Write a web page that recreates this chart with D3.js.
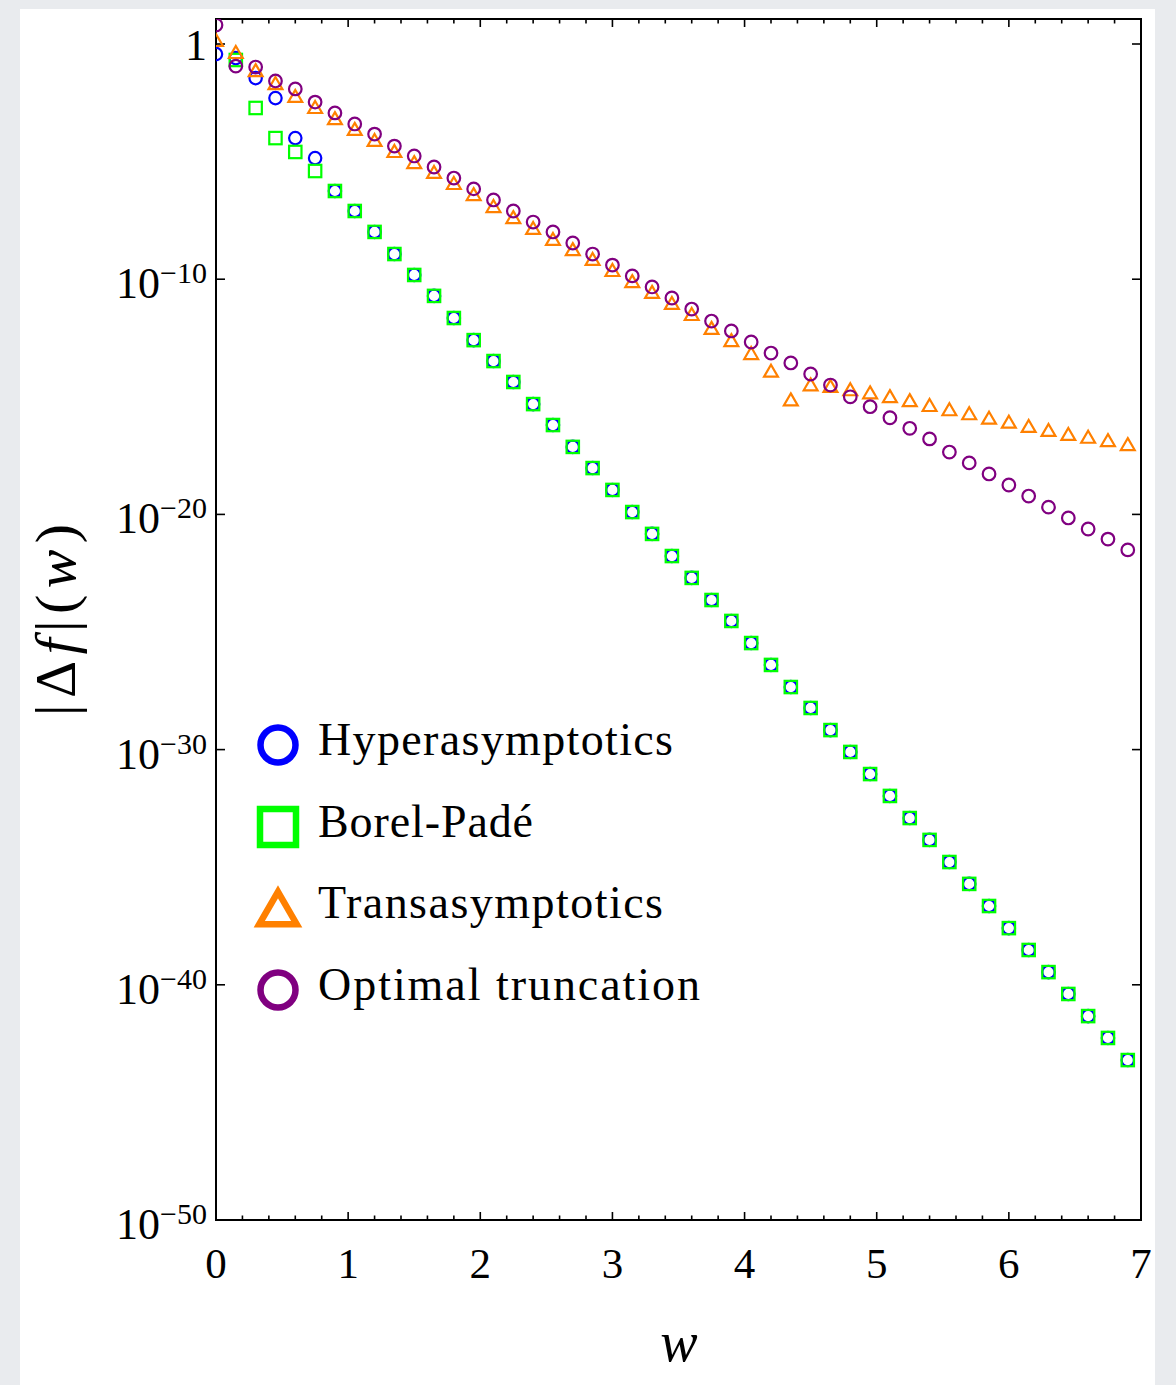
<!DOCTYPE html>
<html>
<head>
<meta charset="utf-8">
<script src="https://cdn.jsdelivr.net/npm/d3@7"></script>
<style>
  html, body { margin: 0; padding: 0; background: #e9ebee; }
  svg { display: block; }
</style>
</head>
<body>
<svg id="chart" width="1176" height="1385"></svg>
<script>
// Sample points in w
const wGrid = [0, 0.15, 0.3, 0.45, 0.6, 0.75, 0.9, 1.05, 1.2, 1.35, 1.5, 1.65, 1.8, 1.95,
  2.1, 2.25, 2.4, 2.55, 2.7, 2.85, 3.0, 3.15, 3.3, 3.45, 3.6, 3.75, 3.9, 4.05, 4.2, 4.35,
  4.5, 4.65, 4.8, 4.95, 5.1, 5.25, 5.4, 5.55, 5.7, 5.85, 6.0, 6.15, 6.3, 6.45, 6.6, 6.75, 6.9];

// log10 |Δf|(w) for each method (null where no point is plotted)
const hyperLog10 = [-0.43, -0.60, -1.45, -2.30, -4.00, -4.85, -6.25, -7.10, -7.99, -8.93,
  -9.82, -10.71, -11.65, -12.59, -13.48, -14.37, -15.31, -16.20, -17.13, -18.03,
  -18.96, -19.90, -20.83, -21.77, -22.70, -23.64, -24.53, -25.47, -26.40, -27.34,
  -28.23, -29.17, -30.10, -31.04, -31.97, -32.91, -33.84, -34.78, -35.71, -36.65,
  -37.59, -38.52, -39.46, -40.39, -41.33, -42.26, -43.20];

const borelPadeLog10 = [null, -0.68, -2.72, -4.00, -4.59, -5.40, -6.25, -7.10, -7.99, -8.93,
  -9.82, -10.71, -11.65, -12.59, -13.48, -14.37, -15.31, -16.20, -17.13, -18.03,
  -18.96, -19.90, -20.83, -21.77, -22.70, -23.64, -24.53, -25.47, -26.40, -27.34,
  -28.23, -29.17, -30.10, -31.04, -31.97, -32.91, -33.84, -34.78, -35.71, -36.65,
  -37.59, -38.52, -39.46, -40.39, -41.33, -42.26, -43.20];

const transLog10 = [0.17, -0.34, -1.11, -1.66, -2.21, -2.68, -3.15, -3.61, -4.08, -4.55,
  -5.02, -5.44, -5.91, -6.38, -6.89, -7.36, -7.82, -8.29, -8.72, -9.14,
  -9.61, -10.08, -10.54, -11.01, -11.48, -12.07, -12.59, -13.14, -13.89, -15.11,
  -14.47, -14.54, -14.68, -14.81, -14.97, -15.14, -15.35, -15.53, -15.70, -15.89,
  -16.06, -16.24, -16.41, -16.58, -16.70, -16.84, -17.01];

const optimalLog10 = [0.81, -0.94, -0.98, -1.57, -1.91, -2.47, -2.93, -3.40, -3.83, -4.34,
  -4.76, -5.23, -5.70, -6.16, -6.63, -7.10, -7.57, -7.99, -8.46, -8.93,
  -9.40, -9.86, -10.33, -10.80, -11.27, -11.78, -12.20, -12.67, -13.14, -13.56,
  -14.03, -14.50, -15.00, -15.42, -15.89, -16.34, -16.79, -17.35, -17.81, -18.28,
  -18.75, -19.22, -19.69, -20.15, -20.62, -21.05, -21.51];

// Axis ticks
const xTickLabels = ["0", "1", "2", "3", "4", "5", "6", "7"];
const yTickExponents = [0, -10, -20, -30, -40, -50];

// Legend entries
const seriesNames = ["Hyperasymptotics", "Borel-Padé", "Transasymptotics", "Optimal truncation"];
const seriesColors = ["#0000ff", "#00ff00", "#ff8000", "#800080"];
const seriesShapes = ["circle", "square", "triangle", "circle"];
const legendTextWidths = [355, 215, 345, 382];

(function draw() {
  const svg = d3.select("#chart");
  const serif = "'Liberation Serif', 'DejaVu Serif', serif";

  // white card
  svg.append("rect").attr("x", 20).attr("y", 9).attr("width", 1135).attr("height", 1385)
    .attr("fill", "#ffffff");

  const pL = 216, pR = 1141, pT = 19, pB = 1220;
  const x = d3.scaleLinear().domain([0, 7]).range([pL, pR]);
  const y = d3.scaleLog().domain([1e-50, Math.pow(10, 1.063)]).range([pB, pT]);

  svg.append("clipPath").attr("id", "plotclip")
    .append("rect").attr("x", pL).attr("y", pT).attr("width", pR - pL).attr("height", pB - pT);

  // frame
  svg.append("rect").attr("x", pL).attr("y", pT).attr("width", pR - pL).attr("height", pB - pT)
    .attr("fill", "none").attr("stroke", "#000").attr("stroke-width", 2);

  // x ticks (major + minor, inward, top and bottom)
  const xTickVals = d3.range(1, 35).map(i => i / 5);
  const ticksG = svg.append("g").attr("stroke", "#000").attr("stroke-width", 1.6);
  xTickVals.forEach(v => {
    const major = Math.abs(v - Math.round(v)) < 1e-9;
    const len = major ? 8 : 4.5;
    ticksG.append("line").attr("x1", x(v)).attr("x2", x(v)).attr("y1", pB).attr("y2", pB - len);
    ticksG.append("line").attr("x1", x(v)).attr("x2", x(v)).attr("y1", pT).attr("y2", pT + len);
  });
  // y ticks (left and right, inward)
  yTickExponents.forEach(e => {
    const yy = y(Math.pow(10, e));
    ticksG.append("line").attr("x1", pL).attr("x2", pL + 9).attr("y1", yy).attr("y2", yy);
    ticksG.append("line").attr("x1", pR).attr("x2", pR - 9).attr("y1", yy).attr("y2", yy);
  });

  // x tick labels
  svg.append("g").selectAll("text").data(xTickLabels).join("text")
    .attr("x", d => x(+d)).attr("y", 1278)
    .attr("text-anchor", "middle").attr("font-family", serif).attr("font-size", 43)
    .attr("fill", "#000").text(d => d);

  // y tick labels
  const yl = svg.append("g").attr("font-family", serif).attr("fill", "#000");
  yTickExponents.forEach(e => {
    const yy = y(Math.pow(10, e));
    if (e === 0) {
      yl.append("text").attr("x", 207).attr("y", yy + 16).attr("text-anchor", "end")
        .attr("font-size", 44).text("1");
    } else {
      const t = yl.append("text").attr("x", 207).attr("y", yy + 19).attr("text-anchor", "end")
        .attr("font-size", 44);
      t.append("tspan").text("10");
      t.append("tspan").attr("dy", -15).attr("font-size", 30).text("\u2212" + Math.abs(e));
    }
  });

  // axis titles
  svg.append("text").attr("x", 679).attr("y", 1361).attr("text-anchor", "middle")
    .attr("font-family", serif).attr("font-style", "italic").attr("font-size", 56).text("w");

  const yt = svg.append("text").attr("transform", "translate(75,620) rotate(-90)")
    .attr("text-anchor", "middle").attr("font-family", serif).attr("font-size", 58)
    .attr("textLength", 192).attr("lengthAdjust", "spacing");
  yt.append("tspan").text("|Δ");
  yt.append("tspan").attr("font-style", "italic").text("f");
  yt.append("tspan").text("|(");
  yt.append("tspan").attr("font-style", "italic").text("w");
  yt.append("tspan").text(")");

  // marker drawing
  function drawMarker(g, shape, color, size, sw) {
    if (shape === "circle") {
      g.append("circle").attr("r", size).attr("fill", "none").attr("stroke", color).attr("stroke-width", sw);
    } else if (shape === "square") {
      g.append("rect").attr("x", -size).attr("y", -size).attr("width", 2 * size).attr("height", 2 * size)
        .attr("fill", "none").attr("stroke", color).attr("stroke-width", sw);
    } else {
      const hw = size * 1.1, hh = size * 0.95;
      g.append("path").attr("d", `M0,${-hh}L${hw},${hh}L${-hw},${hh}Z`)
        .attr("fill", "none").attr("stroke", color).attr("stroke-width", sw)
        .attr("stroke-linejoin", "miter");
    }
  }

  const seriesData = [hyperLog10, borelPadeLog10, transLog10, optimalLog10];
  const markerSizes = [6.2, 6.2, 6.3, 6.3];
  const plotG = svg.append("g").attr("clip-path", "url(#plotclip)");
  seriesData.forEach((vals, si) => {
    const pts = wGrid.map((w, i) => ({ w, v: vals[i] })).filter(d => d.v !== null);
    const g = plotG.append("g");
    pts.forEach(d => {
      const m = g.append("g").attr("transform", `translate(${x(d.w)},${y(Math.pow(10, d.v))})`);
      drawMarker(m, seriesShapes[si], seriesColors[si], markerSizes[si], 2.2);
    });
  });

  // legend
  const legendY = [745, 827, 908, 990];
  const lg = svg.append("g");
  seriesNames.forEach((name, i) => {
    const m = lg.append("g").attr("transform", `translate(278,${legendY[i]})`);
    const sz = seriesShapes[i] === "circle" ? 17.5 : (seriesShapes[i] === "square" ? 18 : 17);
    drawMarker(m, seriesShapes[i], seriesColors[i], sz, 6.5);
    lg.append("text").attr("x", 318).attr("y", legendY[i] + 10)
      .attr("font-family", serif).attr("font-size", 46).attr("fill", "#000")
      .attr("textLength", legendTextWidths[i]).attr("lengthAdjust", "spacing")
      .text(name);
  });
})();
</script>
</body>
</html>
